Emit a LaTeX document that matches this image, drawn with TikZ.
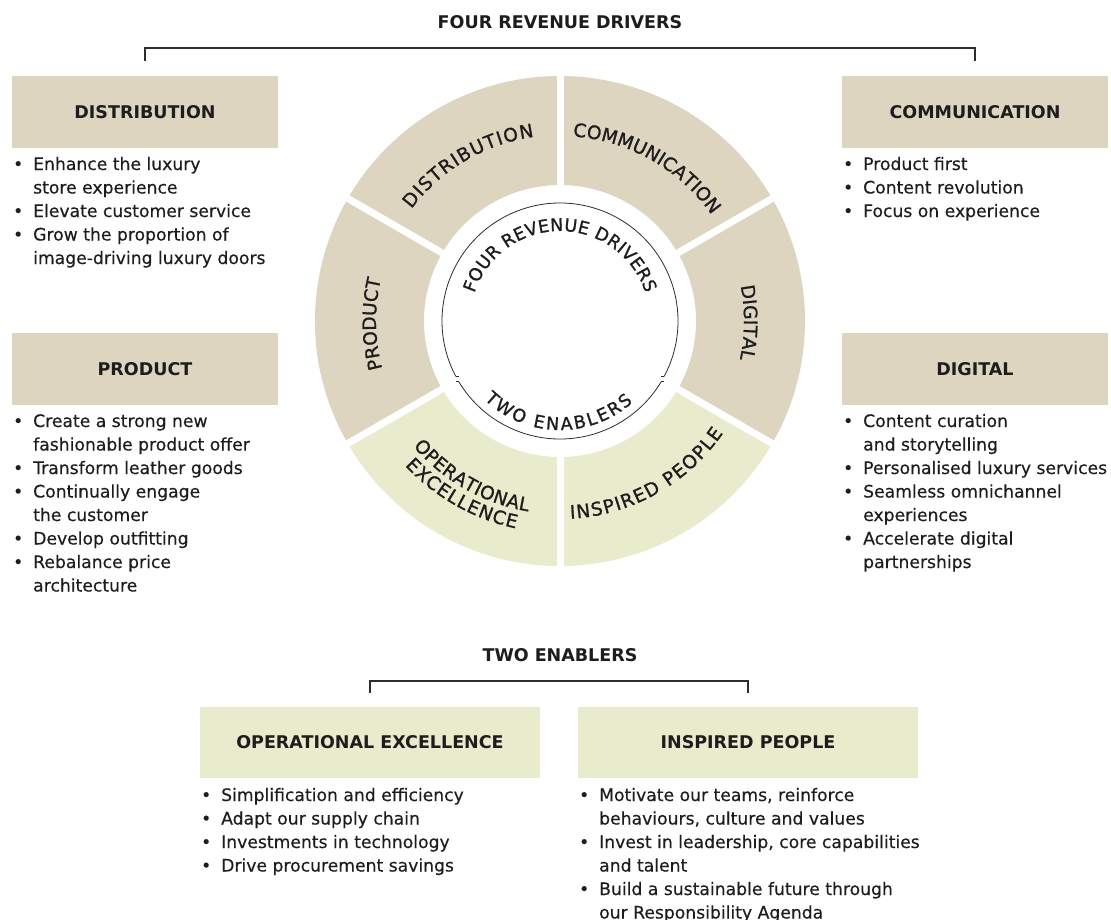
\documentclass[tikz,border=0pt]{standalone}
\usepackage{fontspec}
\setmainfont{DejaVu Sans}
\newfontfamily\medfont[FakeBold=1.1]{DejaVu Sans}
\newfontfamily\bodyfont[FakeBold=0.3]{DejaVu Sans}
\usetikzlibrary{decorations.text}
\definecolor{beige}{RGB}{221,213,191}
\definecolor{pale}{RGB}{232,236,204}
\definecolor{ink}{RGB}{30,28,28}
\definecolor{rulecol}{RGB}{45,45,45}
\newcommand{\ringfnt}{\medfont\fontsize{18.5}{20}\selectfont}
\newcommand{\innerfnt}{\medfont\fontsize{17.5}{20}\selectfont}
\newcommand{\bu}{\makebox[10pt]{\textbullet}}
\begin{document}
\begin{tikzpicture}[x=1pt,y=1pt,
  hdr/.style={fill=#1, minimum width=266pt, minimum height=72pt, inner sep=0pt,
    font=\bfseries\fontsize{17.5}{20}\selectfont, text=ink},
  ttl/.style={font=\bfseries\fontsize{17.5}{20}\selectfont, text=ink, inner sep=0pt},
  blist/.style={anchor=base west, inner sep=0pt, font=\bodyfont\fontsize{17.2}{23.5}\selectfont, text=ink},
  bracket/.style={draw=rulecol, line width=1.2pt},
  thinline/.style={draw=rulecol, line width=0.8pt},
]
\fill[white] (0,0) rectangle (1111,-919);
\useasboundingbox (0,0) rectangle (1111,-919);
\coordinate (c) at (560,-321);

% ring
\fill[beige] ([shift={(-30:136pt)}]c) arc[start angle=-30, end angle=210, radius=136pt]
  -- ([shift={(210:245pt)}]c) arc[start angle=210, end angle=-30, radius=245pt] -- cycle;
\fill[pale] ([shift={(210:136pt)}]c) arc[start angle=210, end angle=330, radius=136pt]
  -- ([shift={(330:245pt)}]c) arc[start angle=330, end angle=210, radius=245pt] -- cycle;
\foreach \a in {30,90,150,210,270,330}
  \draw[white, line width=7pt] ([shift={(\a:125pt)}]c) -- ([shift={(\a:256pt)}]c);

% inner arcs
\draw[thinline] ([shift={(-28:118pt)}]c) arc[start angle=-28, end angle=208, radius=118pt];
\draw[thinline] ([shift={(211:118pt)}]c) arc[start angle=211, end angle=329, radius=118pt];
\draw[thinline] ([shift={(208:118pt)}]c) -- ++(3,0);
\draw[thinline] ([shift={(211:118pt)}]c) -- ++(-3,0);
\draw[thinline] ([shift={(-28:118pt)}]c) -- ++(-3,0);
\draw[thinline] ([shift={(329:118pt)}]c) -- ++(3,0);

% ring labels
\path[decorate, decoration={text along path, text align={fit to path}, text color=ink,
  text={|\ringfnt|DISTRIBUTION}}]
  ([shift={(143:186pt)}]c) arc[start angle=143, end angle=98, radius=186pt];
\path[decorate, decoration={text along path, text align={fit to path}, text color=ink,
  text={|\ringfnt|COMMUNICATION}}]
  ([shift={(86:185pt)}]c) arc[start angle=86, end angle=35, radius=185pt];
\path[decorate, decoration={text along path, text align={fit to path}, text color=ink,
  text={|\ringfnt|DIGITAL}}]
  ([shift={(11:184pt)}]c) arc[start angle=11, end angle=-12, radius=184pt];
\path[decorate, decoration={text along path, text align={fit to path}, text color=ink,
  text={|\ringfnt|PRODUCT}}]
  ([shift={(195:184pt)}]c) arc[start angle=195, end angle=167, radius=184pt];
\path[decorate, decoration={text along path, text align={fit to path}, text color=ink,
  text={|\ringfnt|OPERATIONAL}}]
  ([shift={(220.5:193pt)}]c) arc[start angle=220.5, end angle=260.5, radius=193pt];
\path[decorate, decoration={text along path, text align={fit to path}, text color=ink,
  text={|\ringfnt|EXCELLENCE}}]
  ([shift={(223:212pt)}]c) arc[start angle=223, end angle=258, radius=212pt];
\path[decorate, decoration={text along path, text align={fit to path}, text color=ink,
  text={|\ringfnt|INSPIRED PEOPLE}}]
  ([shift={(273:198pt)}]c) arc[start angle=273, end angle=325.5, radius=198pt];
\path[decorate, decoration={text along path, text align={fit to path}, text color=ink,
  text={|\innerfnt|FOUR REVENUE DRIVERS}}]
  ([shift={(162:90pt)}]c) arc[start angle=162, end angle=18, radius=90pt];
\path[decorate, decoration={text along path, text align={fit to path}, text color=ink,
  text={|\innerfnt|TWO ENABLERS}}]
  ([shift={(226:109pt)}]c) arc[start angle=226, end angle=312, radius=109pt];

% titles
\node[ttl] (t1) at (560,-22) {FOUR REVENUE DRIVERS};
\node[ttl] (t2) at (560,-655) {TWO ENABLERS};

% header boxes
\node[hdr=beige] (distbox) at (145,-112) {DISTRIBUTION};
\node[hdr=beige] (prodbox) at (145,-369) {PRODUCT};
\node[hdr=beige] (commbox) at (975,-112) {COMMUNICATION};
\node[hdr=beige] (digbox) at (975,-369) {DIGITAL};
\node[hdr=pale, minimum width=340pt, minimum height=71pt] (opbox) at (370,-742.5) {OPERATIONAL EXCELLENCE};
\node[hdr=pale, minimum width=340pt, minimum height=71pt] (inspbox) at (748,-742.5) {INSPIRED PEOPLE};

% brackets
\coordinate (b1) at (560,-48);
\coordinate (b2) at (560,-681);
\draw[bracket] ([yshift=15pt]distbox.north) |- (b1) -| ([yshift=15pt]commbox.north);
\draw[bracket] ([yshift=14pt]opbox.north) |- (b2) -| ([yshift=14pt]inspbox.north);

% bullet lists
\node[blist] (distlist) at (13,-170) {\begin{tabular}[t]{@{}l@{\hspace{10pt}}l@{}}
\bu & Enhance the luxury\\ & store experience\\
\bu & Elevate customer service\\
\bu & Grow the proportion of\\ & image-driving luxury doors\end{tabular}};

\node[blist] (prodlist) at (13,-427) {\begin{tabular}[t]{@{}l@{\hspace{10pt}}l@{}}
\bu & Create a strong new\\ & fashionable product offer\\
\bu & Transform leather goods\\
\bu & Continually engage\\ & the customer\\
\bu & Develop outfitting\\
\bu & Rebalance price\\ & architecture\end{tabular}};

\node[blist] (commlist) at (843,-170) {\begin{tabular}[t]{@{}l@{\hspace{10pt}}l@{}}
\bu & Product first\\
\bu & Content revolution\\
\bu & Focus on experience\end{tabular}};

\node[blist] (diglist) at (843,-427) {\begin{tabular}[t]{@{}l@{\hspace{10pt}}l@{}}
\bu & Content curation\\ & and storytelling\\
\bu & Personalised luxury services\\
\bu & Seamless omnichannel\\ & experiences\\
\bu & Accelerate digital\\ & partnerships\end{tabular}};

\node[blist] (oplist) at (201,-801) {\begin{tabular}[t]{@{}l@{\hspace{10pt}}l@{}}
\bu & Simplification and efficiency\\
\bu & Adapt our supply chain\\
\bu & Investments in technology\\
\bu & Drive procurement savings\end{tabular}};

\node[blist] (insplist) at (579,-801) {\begin{tabular}[t]{@{}l@{\hspace{10pt}}l@{}}
\bu & Motivate our teams, reinforce\\ & behaviours, culture and values\\
\bu & Invest in leadership, core capabilities\\ & and talent\\
\bu & Build a sustainable future through\\ & our Responsibility Agenda\end{tabular}};
\end{tikzpicture}
\end{document}
